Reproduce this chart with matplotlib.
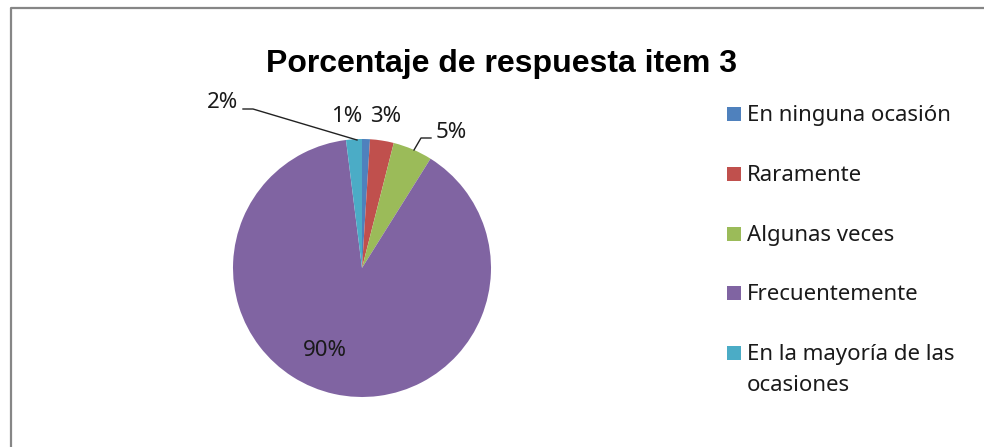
import matplotlib
matplotlib.use("Agg")
import matplotlib.pyplot as plt
from matplotlib.patches import Rectangle
from matplotlib.lines import Line2D

categories = ["En ninguna ocasión", "Raramente", "Algunas veces", "Frecuentemente",
              "En la mayoría de las\nocasiones"]
values = [1, 3, 5, 90, 2]
colors = ["#4F81BD", "#C0504D", "#9BBB59", "#8064A2", "#4BACC6"]
title = "Porcentaje de respuesta item 3"

W, H = 984, 447
fig = plt.figure(figsize=(W / 100, H / 100), dpi=100)
ax = fig.add_axes([0, 0, 1, 1])

def Y(py):
    return H - py

cx, cy, r = 362, Y(268), 129
wedges, _ = ax.pie(values, colors=colors, startangle=90, counterclock=False,
                   center=(cx, cy), radius=r, wedgeprops=dict(linewidth=0))
ax.set_xlim(0, W)
ax.set_ylim(0, H)
ax.set_aspect("equal")
ax.axis("off")

# outer chart border (only left and top visible)
ax.add_line(Line2D([10.5, 10.5, W + 5], [-5, Y(8), Y(8)], color="#868686", lw=1.6,
                   clip_on=False))

lab_font = "Noto Sans"
# data labels (pixel positions, top-origin)
label_pos = [(347, 116), (386, 116), (451, 132), (325, 351), (222, 103)]
for v, (px, py) in zip(values, label_pos):
    ax.text(px, Y(py), f"{v}%", ha="center", va="center", fontsize=16,
            family=lab_font, color="#1a1a1a")

# leader lines
ax.plot([243, 253, 357], [Y(109), Y(109), Y(140)], color="#222222", lw=1)
ax.plot([431, 421, 414], [Y(138), Y(138), Y(150)], color="#222222", lw=1)

# title
ax.text(501, Y(64), title, ha="center", va="center", fontsize=23,
        fontweight="bold", family="Liberation Sans", color="black")

# legend
row_y = [114, 174, 234, 293, 353]
for cat, col, ry in zip(categories, colors, row_y):
    ax.add_patch(Rectangle((727, Y(ry) - 7), 14, 14, facecolor=col, edgecolor="none"))
    for k, line in enumerate(cat.split("\n")):
        ax.text(747, Y(ry + 7 + 31 * k), line, ha="left", va="baseline", fontsize=16,
                family=lab_font, color="#1a1a1a")

fig.savefig("out.png", dpi=100, facecolor="white")
